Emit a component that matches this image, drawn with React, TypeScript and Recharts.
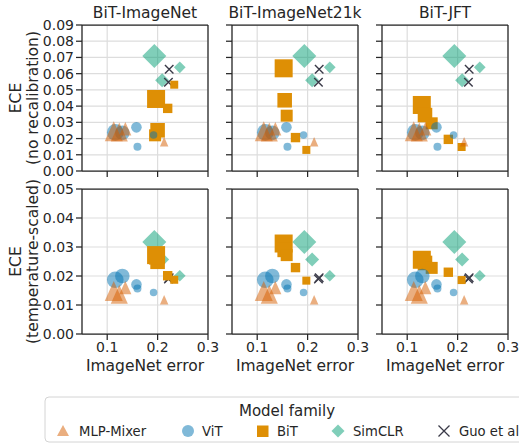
import React from 'react'
import {
  ScatterChart,
  Scatter,
  XAxis,
  YAxis,
  CartesianGrid,
  ReferenceLine,
} from 'recharts'

const FONT = '"DejaVu Sans", Verdana, sans-serif'
const INK = '#262626'

const DATASETS = ['BiT-ImageNet', 'BiT-ImageNet21k', 'BiT-JFT']
const X_TICKS = [0.1, 0.2, 0.3]
const Y_TICKS_RAW = [0, 0.01, 0.02, 0.03, 0.04, 0.05, 0.06, 0.07, 0.08, 0.09]
const Y_TICKS_TS = [0, 0.01, 0.02, 0.03, 0.04, 0.05]

// MLP-Mixer (same in every panel)
const MIXER_ERR = [0.113, 0.124, 0.136, 0.213]
const MIXER_SIZE = [100, 90, 45, 22]
const MIXER_RAW = [0.0245, 0.024, 0.026, 0.018]
const MIXER_TS = [0.0148, 0.0137, 0.016, 0.0118]

// ViT
const VIT_ERR = [0.116, 0.13, 0.158, 0.16, 0.192]
const VIT_SIZE = [69, 53, 28, 16, 14]
const VIT_RAW = [0.0238, 0.0235, 0.0269, 0.015, 0.0222]
const VIT_TS = [0.0187, 0.02, 0.0171, 0.0157, 0.0143]

// BiT, one list per upstream dataset
const BIT_SIZE = [81, 53, 36, 22, 16]
const BIT_ERR = [
  [0.197, 0.2, 0.195, 0.22, 0.233],
  [0.1525, 0.1545, 0.1585, 0.176, 0.1975],
  [0.129, 0.1353, 0.1486, 0.1816, 0.208],
]
const BIT_RAW = [
  [0.0444, 0.0251, 0.022, 0.0386, 0.0532],
  [0.0633, 0.0436, 0.0341, 0.0206, 0.013],
  [0.0407, 0.0345, 0.0294, 0.0195, 0.0148],
]
const BIT_TS = [
  [0.0272, 0.0249, 0.026, 0.0201, 0.0187],
  [0.0312, 0.029, 0.0272, 0.0229, 0.0184],
  [0.0256, 0.0245, 0.0228, 0.0213, 0.0186],
]

// SimCLR
const SIMCLR_ERR = [0.1935, 0.209, 0.244]
const SIMCLR_SIZE = [144, 49, 34]
const SIMCLR_RAW = [0.0709, 0.0559, 0.0639]
const SIMCLR_TS = [0.0317, 0.0257, 0.0201]

// Guo et al.
const GUO_ERR = [0.223, 0.2215]
const GUO_SIZE = [18, 18]
const GUO_RAW = [0.0627, 0.0547]
const GUO_TS = [0.0194, 0.019]

const MIXER_C = '#d55e00'
const VIT_C = '#0173b2'
const BIT_C = '#de8f05'
const SIM_C = '#029e73'
const GUO_C = '#3a3a48'

const PANEL_LEFT = [82, 232, 382]
const ROW_TOP = [25, 189]
const ROW_H = [146, 145]
const PLOT_W = 126
const YW = 50
const MT = 10
const MR = 14
const XH = 40

const pts = (xs: number[], ys: number[], zs: number[]) =>
  xs.map((x, i) => ({ x, y: ys[i], z: zs[i] }))

const Tri = (p: any) => {
  const h = Math.sqrt(p.payload.z)
  const w = h * 0.9
  return (
    <path
      d={`M${p.cx},${p.cy - h}L${p.cx + w},${p.cy + h}L${p.cx - w},${p.cy + h}Z`}
      fill={MIXER_C}
      fillOpacity={0.5}
    />
  )
}
const Dot = (p: any) => (
  <circle cx={p.cx} cy={p.cy} r={Math.sqrt(p.payload.z)} fill={VIT_C} fillOpacity={0.5} />
)
const Sq = (p: any) => {
  const h = Math.sqrt(p.payload.z)
  return <rect x={p.cx - h} y={p.cy - h} width={2 * h} height={2 * h} fill={BIT_C} />
}
const Dia = (p: any) => {
  const h = Math.sqrt(p.payload.z)
  return (
    <path
      d={`M${p.cx},${p.cy - h}L${p.cx + h},${p.cy}L${p.cx},${p.cy + h}L${p.cx - h},${p.cy}Z`}
      fill={SIM_C}
      fillOpacity={0.5}
    />
  )
}
const Cross = (p: any) => {
  const h = Math.sqrt(p.payload.z)
  return (
    <path
      d={`M${p.cx - h},${p.cy - h}L${p.cx + h},${p.cy + h}M${p.cx - h},${p.cy + h}L${p.cx + h},${p.cy - h}`}
      stroke={GUO_C}
      strokeWidth={1.4}
      fill='none'
    />
  )
}

const noTick = () => <g />

function Panel({ col, row }: { col: number; row: number }) {
  const raw = row === 0
  const yMax = raw ? 0.09 : 0.05
  return (
    <div
      style={{
        position: 'absolute',
        left: PANEL_LEFT[col] - YW,
        top: ROW_TOP[row] - MT,
      }}
    >
      <ScatterChart
        width={YW + PLOT_W + MR}
        height={MT + ROW_H[row] + XH}
        margin={{ top: MT, right: MR, bottom: 0, left: 0 }}
      >
        <CartesianGrid stroke='#dddddd' strokeWidth={1.2} />
        <XAxis
          type='number'
          dataKey='x'
          domain={[0.05, 0.3]}
          ticks={X_TICKS}
          interval={0}
          allowDataOverflow
          height={XH}
          stroke={INK}
          strokeWidth={1.25}
          tickSize={6}
          tick={row === 1 ? { fontSize: 14, fill: INK } : noTick}
          tickFormatter={(v: number) => v.toFixed(1)}
        />
        <YAxis
          type='number'
          dataKey='y'
          domain={[0, yMax]}
          ticks={raw ? Y_TICKS_RAW : Y_TICKS_TS}
          interval={0}
          allowDataOverflow
          width={YW}
          stroke={INK}
          strokeWidth={1.25}
          tickSize={6}
          tick={col === 0 ? { fontSize: 14, fill: INK } : noTick}
          tickFormatter={(v: number) => v.toFixed(2)}
        />
        <ReferenceLine y={yMax} stroke={INK} strokeWidth={1.25} />
        <ReferenceLine x={0.3} stroke={INK} strokeWidth={1.25} />
        <Scatter
          data={pts(SIMCLR_ERR, raw ? SIMCLR_RAW : SIMCLR_TS, SIMCLR_SIZE)}
          shape={Dia}
          isAnimationActive={false}
        />
        <Scatter
          data={pts(GUO_ERR, raw ? GUO_RAW : GUO_TS, GUO_SIZE)}
          shape={Cross}
          isAnimationActive={false}
        />
        <Scatter
          data={pts(BIT_ERR[col], raw ? BIT_RAW[col] : BIT_TS[col], BIT_SIZE)}
          shape={Sq}
          isAnimationActive={false}
        />
        <Scatter
          data={pts(VIT_ERR, raw ? VIT_RAW : VIT_TS, VIT_SIZE)}
          shape={Dot}
          isAnimationActive={false}
        />
        <Scatter
          data={pts(MIXER_ERR, raw ? MIXER_RAW : MIXER_TS, MIXER_SIZE)}
          shape={Tri}
          isAnimationActive={false}
        />
      </ScatterChart>
    </div>
  )
}

function Overlay() {
  const rows = [
    { cy: 98, sub: '(no recalibration)' },
    { cy: 261.5, sub: '(temperature-scaled)' },
  ]
  return (
    <svg
      width={519}
      height={443}
      style={{ position: 'absolute', left: 0, top: 0, fontFamily: FONT }}
    >
      {DATASETS.map((d, i) => (
        <text key={d} x={PANEL_LEFT[i] + PLOT_W / 2} y={18} textAnchor='middle' fontSize={15.5} fill={INK}>
          {d}
        </text>
      ))}
      {PANEL_LEFT.map((l) => (
        <text key={l} x={l + PLOT_W / 2} y={371} textAnchor='middle' fontSize={15.5} fill={INK}>
          ImageNet error
        </text>
      ))}
      {rows.map((r) => (
        <g key={r.sub}>
          <text
            x={16}
            y={r.cy}
            transform={`rotate(-90 16 ${r.cy})`}
            textAnchor='middle'
            dominantBaseline='central'
            fontSize={15.5}
            fill={INK}
          >
            ECE
          </text>
          <text
            x={33}
            y={r.cy}
            transform={`rotate(-90 33 ${r.cy})`}
            textAnchor='middle'
            dominantBaseline='central'
            fontSize={15.5}
            fill={INK}
          >
            {r.sub}
          </text>
        </g>
      ))}
      <rect x={45} y={397} width={500} height={45} rx={4} fill='#fff' stroke='#d4d4d4' />
      <text x={287} y={411} textAnchor='middle' dominantBaseline='central' fontSize={15} fill={INK}>
        Model family
      </text>
      <path d='M57,436L63,425L69,436Z' fill={MIXER_C} fillOpacity={0.5} />
      <text x={79} y={431} dominantBaseline='central' fontSize={13.2} fill={INK}>
        MLP-Mixer
      </text>
      <circle cx={188} cy={431} r={6} fill={VIT_C} fillOpacity={0.5} />
      <text x={202} y={431} dominantBaseline='central' fontSize={13.2} fill={INK}>
        ViT
      </text>
      <rect x={257} y={425.5} width={11.5} height={11.5} fill={BIT_C} />
      <text x={277} y={431} dominantBaseline='central' fontSize={13.2} fill={INK}>
        BiT
      </text>
      <path d='M338,424.5L344.5,431L338,437.5L331.5,431Z' fill={SIM_C} fillOpacity={0.5} />
      <text x={353} y={431} dominantBaseline='central' fontSize={13.2} fill={INK}>
        SimCLR
      </text>
      <path d='M438.5,425.5L449.5,436.5M438.5,436.5L449.5,425.5' stroke={GUO_C} strokeWidth={1.3} />
      <text x={459} y={431} dominantBaseline='central' fontSize={13.2} fill={INK}>
        Guo et al.
      </text>
    </svg>
  )
}

export default function App() {
  return (
    <div
      style={{
        position: 'absolute',
        left: 0,
        top: 0,
        width: 519,
        height: 443,
        overflow: 'hidden',
        background: '#fff',
        fontFamily: FONT,
      }}
    >
      <Overlay />
      {[0, 1].map((row) =>
        [0, 1, 2].map((col) => <Panel key={`${row}-${col}`} col={col} row={row} />)
      )}
    </div>
  )
}
